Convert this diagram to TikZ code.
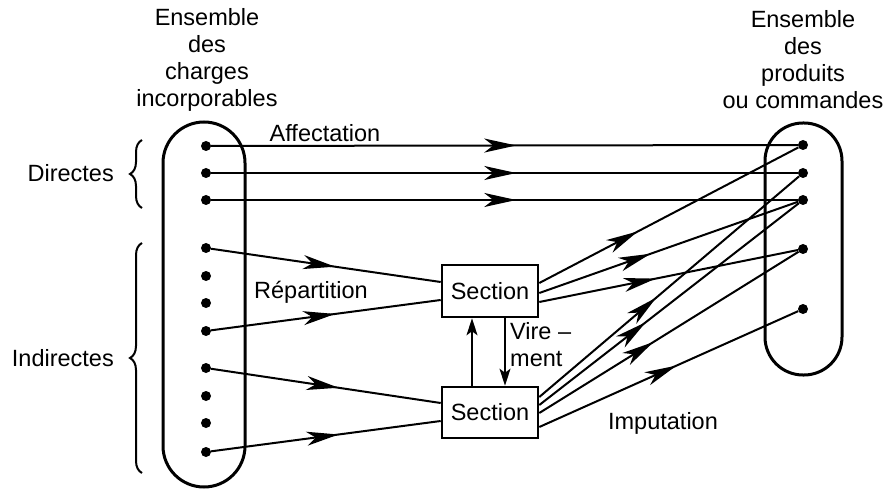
\documentclass[tikz,border=0pt]{standalone}
\usepackage{fontspec}
\setmainfont{Liberation Sans}
\usetikzlibrary{arrows.meta,decorations.markings,decorations.pathreplacing}
\tikzset{
  x=1pt, y=1pt,
  lbl/.style={inner sep=0pt, font=\fontsize{23.5}{27}\selectfont},
  dot/.style={circle, fill=black, inner sep=0pt, minimum size=10pt},
  capsule/.style={draw, line width=3pt},
  secbox/.style={draw, line width=2.6pt, minimum width=96pt, inner sep=0pt, font=\fontsize{23.5}{27}\selectfont},
  conn/.style={line width=2pt},
  marr/.style={conn, postaction={decorate}, decoration={markings, mark=at position #1 with {\arrow{Stealth[length=32pt,width=14pt,inset=9pt]}}}},
  vire/.style={line width=2pt, -{Stealth[length=17pt,width=11pt,inset=4pt]}},
  bracestyle/.style={line width=2pt, decorate, decoration={brace, amplitude=12pt}}
}
\begin{document}
\begin{tikzpicture}
\useasboundingbox (0,0) rectangle (889,-489);
% capsules
\draw[capsule, rounded corners=41pt] (163,-122) rectangle (245,-487);
\draw[capsule, rounded corners=38pt] (765,-123) rectangle (842,-375);
% headers
\node[lbl, align=center] (hl) at (207,-60) {Ensemble\\des\\charges\\incorporables};
\node[lbl, align=center] (hr) at (803,-60) {Ensemble\\des\\produits\\ou commandes};
% left dots
\foreach \i/\yy in {1/146,2/173,3/200,4/248,5/276,6/303,7/331,8/368,9/396,10/423,11/452}
  \node[dot] (L\i) at (206,-\yy) {};
% right dots
\foreach \i/\yy in {1/145,2/173,3/200,4/249,5/309}
  \node[dot] (R\i) at (803,-\yy) {};
% sections
\node[secbox, minimum height=52pt] (S1) at (490,-291) {Section};
\node[secbox, minimum height=51pt] (S2) at (490,-412.5) {Section};
% braces
\draw[bracestyle] (142,-208) -- (142,-140) coordinate[midway] (bd);
\draw[bracestyle] (142,-473) -- (142,-243) coordinate[midway] (bi);
\node[lbl, anchor=east] (dir) at (114,-173) {Directes};
\node[lbl, anchor=east] (ind) at (114,-358) {Indirectes};
% labels
\node[lbl] (aff) at (325,-133) {Affectation};
\node[lbl] (rep) at (311,-292) {Répartition};
\node[lbl, anchor=west, align=left] (vir) at (510,-345) {Vire –\\ment};
\node[lbl] (imp) at (663,-423) {Imputation};
% affectation
\draw[marr=0.52] (L1) -- (R1);
\draw[marr=0.52] (L2) -- (R2);
\draw[marr=0.52] (L3) -- (R3);
% repartition
\draw[marr=0.54] (L4) -- ([yshift=9pt]S1.west);
\draw[marr=0.54] (L7) -- ([yshift=-9pt]S1.west);
\draw[marr=0.555] (L8) -- ([yshift=9.5pt]S2.west);
\draw[marr=0.555] (L11) -- ([yshift=-8.5pt]S2.west);
% virement
\draw[vire] ([xshift=-18pt]S2.north) -- ([xshift=-18pt]S1.south);
\draw[vire] ([xshift=15pt]S1.south) -- ([xshift=15pt]S2.north);
% imputation
\draw[marr=0.38] ([yshift=8pt]S1.east) -- (R1);
\draw[marr=0.43] ([yshift=-2pt]S1.east) -- (R3);
\draw[marr=0.45] ([yshift=-11pt]S1.east) -- (R4);
\draw[marr=0.45] ([yshift=15.5pt]S2.east) -- (R2);
\draw[marr=0.41] ([yshift=7.5pt]S2.east) -- (R3);
\draw[marr=0.44] ([yshift=-0.5pt]S2.east) -- (R4);
\draw[marr=0.53] ([yshift=-14.5pt]S2.east) -- (R5);
\end{tikzpicture}
\end{document}
